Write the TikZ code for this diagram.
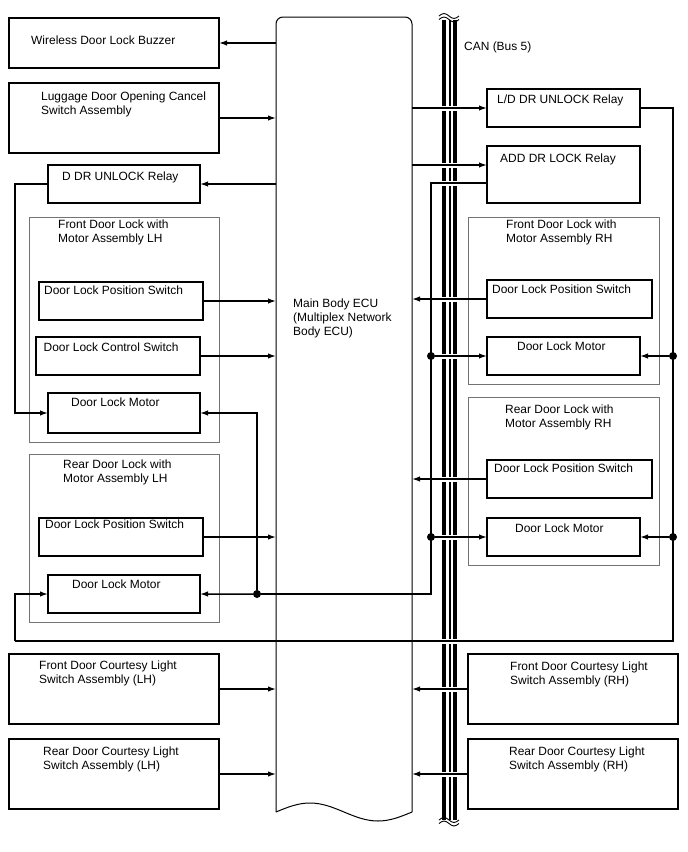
\documentclass[tikz,border=0pt]{standalone}
\usepackage{fontspec}
\setmainfont{Liberation Sans}
\usetikzlibrary{arrows.meta}

\tikzset{
  box/.style={draw, line width=1.5bp, inner sep=0pt, outer sep=0pt, anchor=north west},
  grp/.style={draw=black!55, line width=0.8bp, inner sep=0pt, outer sep=0pt, anchor=north west},
  lbl/.style={anchor=base west, inner sep=0pt, align=left},
  sig/.style={line width=1.5bp, -{Latex[length=8bp,width=5.5bp]}},
  wire/.style={line width=1.5bp},
  jdot/.style={circle, fill, inner sep=0pt, minimum size=8bp},
}

\begin{document}
\begin{tikzpicture}[x=1bp, y=-1bp, font=\fontsize{12}{14}\selectfont]
    \useasboundingbox (0,0) rectangle (688,852);

    % Main Body ECU
    \node[inner sep=0pt, outer sep=0pt, anchor=north west, minimum width=136bp, minimum height=795bp] (ecu) at (276,17) {};
    \draw[line width=1bp, rounded corners=7bp] (276,812) -- (276,17) -- (412,17) -- (412,812);
    \draw[line width=1bp] (412,812) sin (378,821) cos (344,812) sin (310,803) cos (276,812);
    \node[lbl] (ecut) at (293,335) {Main Body ECU\\(Multiplex Network\\Body ECU)};

    % CAN bus
    \foreach \x/\w in {444.3/4.3, 450/1.5, 454.6/3.8}
        \draw[line width=\w bp] (\x,19.5) -- (\x,820);
    \foreach \y in {16,19.5,820,823.5}
        \draw[line width=0.9bp] (439,\y) sin (444,\y-2.5) cos (449,\y) sin (454,\y+2.5) cos (459,\y);
    \foreach \y in {108,165,183,299,356,479,537,641,689,774}
        \fill[white] (439,\y-2.5) rectangle (460,\y+2.5);
    \node[lbl] (can) at (464,50) {CAN (Bus 5)};

    % Left side
    \node[box, minimum width=210bp, minimum height=50bp] (buzzer) at (9,18) {};
    \node[lbl] (tbuzzer) at (31,44) {Wireless Door Lock Buzzer};
    \node[box, minimum width=210bp, minimum height=70bp] (lug) at (9,83) {};
    \node[lbl] (tlug) at (41,114) {Luggage Door Opening Cancel\\Switch Assembly};
    \node[box, minimum width=152bp, minimum height=38bp] (ddr) at (48,165) {};
    \node[lbl] (tddr) at (62,180) {D DR UNLOCK Relay};

    \node[grp, minimum width=190bp, minimum height=225bp] (flg) at (29,217) {};
    \node[lbl] (tflg) at (58,242.5) {Front Door Lock with\\Motor Assembly LH};
    \node[box, minimum width=164bp, minimum height=38bp] (flps) at (39,282) {};
    \node[lbl] (tflps) at (44,294.7) {Door Lock Position Switch};
    \node[box, minimum width=164bp, minimum height=38bp] (flcs) at (36,337) {};
    \node[lbl] (tflcs) at (43.5,351) {Door Lock Control Switch};
    \node[box, minimum width=152bp, minimum height=40bp] (flm) at (48,393) {};
    \node[lbl] (tflm) at (71,406) {Door Lock Motor};

    \node[grp, minimum width=190bp, minimum height=168bp] (rlg) at (29,454) {};
    \node[lbl] (trlg) at (63,482.6) {Rear Door Lock with\\Motor Assembly LH};
    \node[box, minimum width=164bp, minimum height=38bp] (rlps) at (39,518) {};
    \node[lbl] (trlps) at (45,528.6) {Door Lock Position Switch};
    \node[box, minimum width=152bp, minimum height=38bp] (rlm) at (48,575) {};
    \node[lbl] (trlm) at (72,588) {Door Lock Motor};

    \node[box, minimum width=210bp, minimum height=70bp] (fcl) at (9,654) {};
    \node[lbl] (tfcl) at (39,683.3) {Front Door Courtesy Light\\Switch Assembly (LH)};
    \node[box, minimum width=210bp, minimum height=70bp] (rcl) at (9,739) {};
    \node[lbl] (trcl) at (43,769.3) {Rear Door Courtesy Light\\Switch Assembly (LH)};

    % Right side
    \node[box, minimum width=153bp, minimum height=38bp] (ld) at (487,89) {};
    \node[lbl] (tld) at (497,103) {L/D DR UNLOCK Relay};
    \node[box, minimum width=153bp, minimum height=57bp] (add) at (487,146) {};
    \node[lbl] (tadd) at (500,162.6) {ADD DR LOCK Relay};

    \node[grp, minimum width=191bp, minimum height=167bp] (frg) at (468,217) {};
    \node[lbl] (tfrg) at (506,242.6) {Front Door Lock with\\Motor Assembly RH};
    \node[box, minimum width=165bp, minimum height=38bp] (frps) at (487,280) {};
    \node[lbl] (tfrps) at (492,293) {Door Lock Position Switch};
    \node[box, minimum width=153bp, minimum height=38bp] (frm) at (487,337) {};
    \node[lbl] (tfrm) at (517,350) {Door Lock Motor};

    \node[grp, minimum width=191bp, minimum height=168bp] (rrg) at (468,397) {};
    \node[lbl] (trrg) at (505,427) {Rear Door Lock with\\Motor Assembly RH};
    \node[box, minimum width=165bp, minimum height=38bp] (rrps) at (487,460) {};
    \node[lbl] (trrps) at (494,472) {Door Lock Position Switch};
    \node[box, minimum width=153bp, minimum height=38bp] (rrm) at (487,518) {};
    \node[lbl] (trrm) at (515,532) {Door Lock Motor};

    \node[box, minimum width=210bp, minimum height=70bp] (fcr) at (468,654) {};
    \node[lbl] (tfcr) at (510,684) {Front Door Courtesy Light\\Switch Assembly (RH)};
    \node[box, minimum width=210bp, minimum height=70bp] (rcr) at (468,739) {};
    \node[lbl] (trcr) at (509,769) {Rear Door Courtesy Light\\Switch Assembly (RH)};

    % Wiring points
    \coordinate (lx) at (15,0);
    \coordinate (ll) at (15,641);
    \coordinate (rr) at (673,641);
    \coordinate (jr) at (431,594);
    \coordinate (addin) at ([yshift=9.5bp]add.west);
    \coordinate (addout) at ([yshift=-8.5bp]add.west);

    % Signals to and from the ECU (left)
    \draw[sig] (ecu.west |- buzzer.east) -- (buzzer.east);
    \draw[sig] (lug.east) -- (ecu.west |- lug.east);
    \draw[sig] (ecu.west |- ddr.east) -- (ddr.east);
    \draw[sig] (flps.east) -- (ecu.west |- flps.east);
    \draw[sig] (flcs.east) -- (ecu.west |- flcs.east);
    \draw[sig] (rlps.east) -- (ecu.west |- rlps.east);
    \draw[sig] (fcl.east) -- (ecu.west |- fcl.east);
    \draw[sig] (rcl.east) -- (ecu.west |- rcl.east);

    % Signals to and from the ECU (right)
    \draw[sig] (ecu.east |- ld.west) -- (ld.west);
    \draw[sig] (ecu.east |- addin) -- (addin);
    \draw[sig] (frps.west) -- (ecu.east |- frps.west);
    \draw[sig] (rrps.west) -- (ecu.east |- rrps.west);
    \draw[sig] (fcr.west) -- (ecu.east |- fcr.west);
    \draw[sig] (rcr.west) -- (ecu.east |- rcr.west);

    % Relay outputs to the motors
    \draw[sig] (ddr.west) -- (lx |- ddr.west) |- (flm.west);
    \node[jdot] (jl) at (257,594) {};
    \draw[wire] (addout) -| (jr) -- (jl);
    \draw[sig] (jl) |- (flm.east);
    \draw[sig] (jl) -- (rlm.east);
    \node[jdot] (d1) at (jr |- frm.west) {};
    \node[jdot] (d2) at (jr |- rrm.west) {};
    \draw[sig] (d1) -- (frm.west);
    \draw[sig] (d2) -- (rrm.west);

    \draw[wire] (ld.east) -| (rr) -- (ll);
    \draw[sig] (ll) |- (rlm.west);
    \node[jdot] (d3) at (rr |- frm.east) {};
    \node[jdot] (d4) at (rr |- rrm.east) {};
    \draw[sig] (d3) -- (frm.east);
    \draw[sig] (d4) -- (rrm.east);

\end{tikzpicture}
\end{document}
